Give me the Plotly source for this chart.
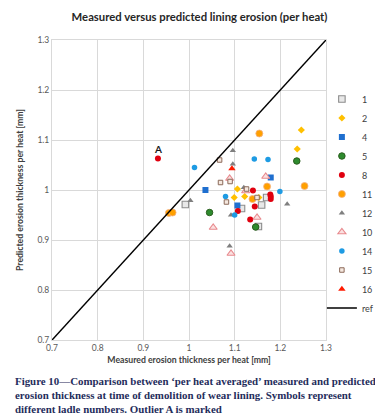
import plotly.graph_objects as go

# ---- data ----
s1_x = [1.170, 1.159, 1.115, 1.152, 0.992]
s1_y = [0.985, 0.970, 0.963, 0.927, 0.971]
s2_x = [1.106, 1.099, 1.122, 1.153, 1.246, 1.237]
s2_y = [1.002, 0.985, 0.987, 0.985, 1.120, 1.082]
s4_x = [1.036, 1.179, 1.106]
s4_y = [1.000, 1.025, 0.969]
s5_x = [1.045, 1.146, 1.236]
s5_y = [0.955, 0.926, 1.058]
s8_x = [0.932, 1.140, 1.178, 1.179, 1.179, 1.144, 1.107, 1.134]
s8_y = [1.063, 0.999, 0.991, 0.987, 0.982, 0.967, 0.958, 0.941]
s11_x = [1.154, 1.171, 1.139, 1.253, 0.956, 0.964]
s11_y = [1.113, 1.007, 0.982, 1.008, 0.954, 0.955]
s12_x = [1.096, 1.096, 1.120, 1.092, 1.003, 1.089, 1.215]
s12_y = [1.079, 1.052, 1.005, 0.950, 0.979, 0.888, 0.972]
s10_x = [1.089, 1.168, 1.124, 1.149, 1.053, 1.092]
s10_y = [1.023, 1.027, 0.998, 0.945, 0.925, 0.873]
s14_x = [1.143, 1.173, 1.012, 1.080, 1.100, 1.199]
s14_y = [1.062, 1.061, 1.045, 0.987, 0.950, 0.997]
s15_x = [1.067, 1.090, 1.069, 1.126, 1.149, 1.082]
s15_y = [1.060, 1.017, 1.015, 1.002, 0.985, 0.976]
s16_x = [1.094]
s16_y = [1.043]
ref_x = [0.7, 1.3]
ref_y = [0.7, 1.3]

tick_vals = [0.7, 0.8, 0.9, 1.0, 1.1, 1.2, 1.3]
tick_text = ["0.7", "0.8", "0.9", "1", "1.1", "1.2", "1.3"]

outlier_label = "A"
outlier_x = 0.932
outlier_y = 1.063

title_text = "Measured versus predicted lining erosion (per heat)"
x_title = "Measured erosion thickness per heat [mm]"
y_title = "Predicted erosion thickness per heat [mm]"
caption = ("Figure 10\u2014Comparison between \u2018per heat averaged\u2019 measured and predicted<br>"
           "erosion thickness at time of demolition of wear lining. Symbols represent<br>"
           "different ladle numbers. Outlier A is marked")

series = [
    ("1", s1_x, s1_y, dict(symbol="square", size=6.5, color="#e8e8e8", line=dict(color="#8c8c8c", width=1.1))),
    ("2", s2_x, s2_y, dict(symbol="diamond", size=5.5, color="#ffc000", line=dict(width=0))),
    ("4", s4_x, s4_y, dict(symbol="square", size=6, color="#1f6fcf", line=dict(width=0))),
    ("5", s5_x, s5_y, dict(symbol="circle", size=6.5, color="#2e8b2e", line=dict(color="#2a5e1e", width=1))),
    ("8", s8_x, s8_y, dict(symbol="circle", size=6, color="#e0000f", line=dict(width=0))),
    ("11", s11_x, s11_y, dict(symbol="circle", size=7, color="#ffa000", line=dict(color="#f4b183", width=0.8))),
    ("12", s12_x, s12_y, dict(symbol="triangle-up", size=5.5, color="#7f7f7f", line=dict(width=0))),
    ("10", s10_x, s10_y, dict(symbol="triangle-up", size=7, color="#fbe0e0", line=dict(color="#e88a8e", width=1.1))),
    ("14", s14_x, s14_y, dict(symbol="circle", size=5.5, color="#1e9be3", line=dict(width=0))),
    ("15", s15_x, s15_y, dict(symbol="square", size=4.5, color="#f5e8df", line=dict(color="#8b6a5a", width=1))),
    ("16", s16_x, s16_y, dict(symbol="triangle-up", size=6.5, color="#ff1a00", line=dict(width=0))),
]

fig = go.Figure()
for name, xs, ys, mk in series:
    fig.add_trace(go.Scatter(x=xs, y=ys, mode="markers", name=name, marker=mk))
fig.add_trace(go.Scatter(x=ref_x, y=ref_y, mode="lines", name="ref",
                         line=dict(color="black", width=1.5)))

fig.add_annotation(x=outlier_x, y=outlier_y, text="<b>" + outlier_label + "</b>", showarrow=False,
                   yshift=10, xshift=0, font=dict(family="Lato", size=10, color="#1a1a1a"))

fig.add_annotation(xref="paper", yref="paper", x=-0.143, y=-0.11, xanchor="left", yanchor="top",
                   align="left", showarrow=False, text="<b>" + caption + "</b>",
                   font=dict(family="Liberation Serif", size=10.9, color="#1f2d5c"))

axis_common = dict(range=[0.7, 1.3], tickvals=tick_vals, ticktext=tick_text,
                   showgrid=True, gridcolor="#d9d9d9", gridwidth=1, zeroline=False,
                   showline=True, mirror=True, linecolor="#d9d9d9", linewidth=1,
                   ticks="", tickfont=dict(family="Lato", size=8.5, color="#595959"))

fig.update_layout(
    width=383, height=417,
    margin=dict(l=44, r=56, t=32, b=85),
    paper_bgcolor="white", plot_bgcolor="white",
    title=dict(text="<b>" + title_text + "</b>", x=0.5, xanchor="center", y=1 - 9 / 417, yanchor="middle",
               font=dict(family="Lato", size=11.3, color="#262626")),
    xaxis=dict(**axis_common, title=dict(text="<b>" + x_title + "</b>", standoff=4,
                                          font=dict(family="Lato", size=8.7, color="#404040"))),
    yaxis=dict(**axis_common, title=dict(text="<b>" + y_title + "</b>", standoff=12,
                                          font=dict(family="Lato", size=8.7, color="#404040"))),
    legend=dict(x=0.985, xanchor="left", y=0.455, yanchor="middle",
                font=dict(family="Lato", size=9, color="#404040"),
                bgcolor="rgba(0,0,0,0)", itemwidth=30, tracegroupgap=0),
    showlegend=True,
)

fig.write_html("out.html")
